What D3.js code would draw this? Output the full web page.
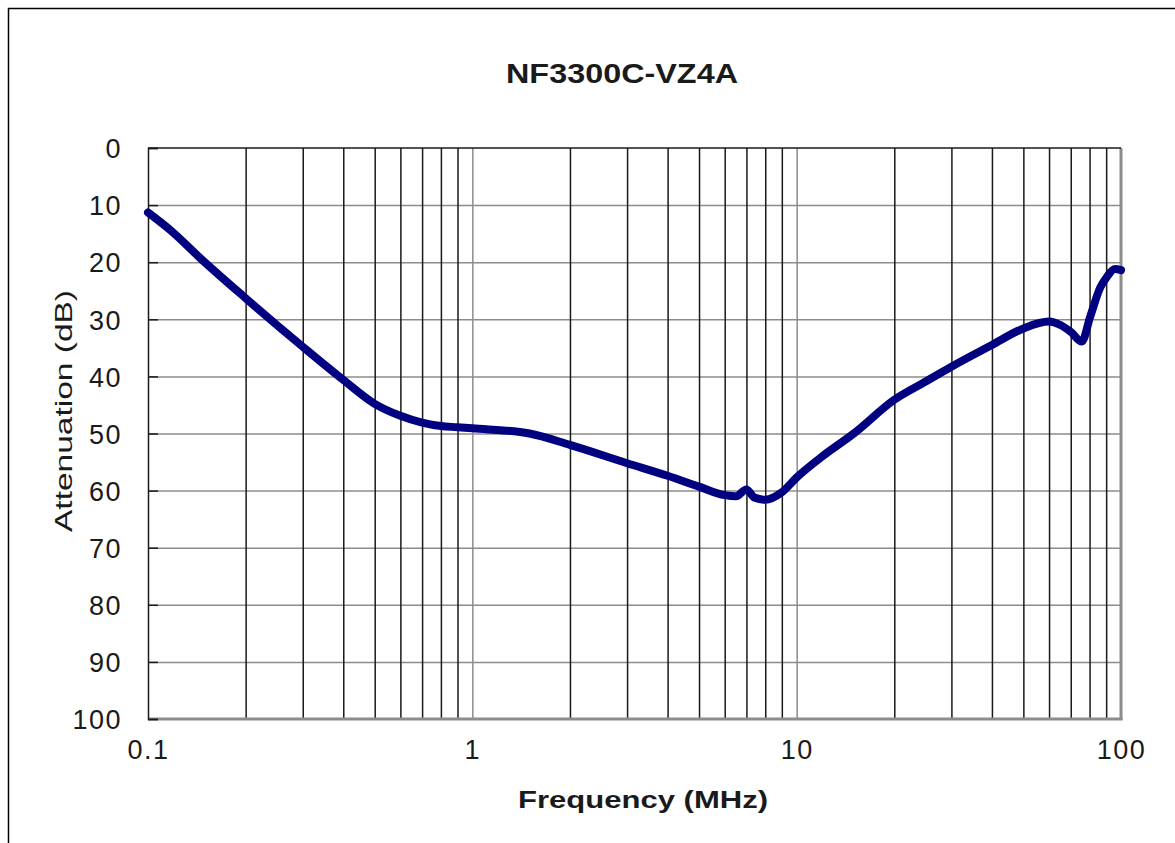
<!DOCTYPE html>
<html>
<head>
<meta charset="utf-8">
<script src="https://cdn.jsdelivr.net/npm/d3@7"></script>
<style>
  html, body { margin: 0; padding: 0; background: #fff; }
  svg { display: block; }
</style>
</head>
<body>
<svg id="chart" width="1175" height="843"></svg>
<script>
// ---- data ----
const chartTitle = "NF3300C-VZ4A";
const xLabel = "Frequency (MHz)";
const yLabel = "Attenuation (dB)";
const freqMHz = [0.1, 0.119, 0.145, 0.2, 0.3, 0.4, 0.5, 0.6, 0.7, 0.8, 0.9, 1.0, 1.5, 2, 3, 4, 5, 6, 6.5, 7, 7.4, 8, 9, 10, 12, 15, 20, 25, 30, 40, 50, 60, 65, 70, 75.7, 80.3, 86.2, 90.4, 95.8, 100];
const attenDb = [11.3, 14.7, 19.3, 26.3, 34.8, 40.6, 44.8, 46.9, 48.1, 48.7, 48.9, 49.1, 50.0, 52.0, 55.2, 57.4, 59.3, 60.8, 61.0, 59.8, 61.2, 61.6, 60.3, 57.7, 54.0, 50.0, 44.1, 40.9, 38.3, 34.5, 31.6, 30.4, 31.0, 32.2, 33.9, 29.6, 24.5, 22.6, 21.2, 21.4];
const xTickValues = [0.1, 1, 10, 100];
const xTickLabels = ["0.1", "1", "10", "100"];
const yTickValues = [0, 10, 20, 30, 40, 50, 60, 70, 80, 90, 100];

// ---- layout ----
const L = 148, R = 1121, T = 148, B = 719;
const svg = d3.select("#chart");
const FONT = "'Liberation Sans', Arial, sans-serif";

// outer frame (only left/top visible)
svg.append("rect").attr("x", 8.5).attr("y", 8.5).attr("width", 1300).attr("height", 1000)
  .attr("fill", "none").attr("stroke", "#000").attr("stroke-width", 1.5);

const x = d3.scaleLog().domain([0.1, 100]).range([L, R]);
const y = d3.scaleLinear().domain([0, 100]).range([T, B]);

// minor vertical grid (2..9 of each decade) and decade lines
const minor = [], decades = [];
[0.1, 1, 10].forEach(d => {
  for (let k = 2; k <= 9; k++) minor.push(+(d * k).toFixed(4));
  if (d > 0.1) decades.push(d);
});

// horizontal grid
svg.append("g").attr("transform", `translate(${L},0)`)
  .call(d3.axisLeft(y).tickValues(yTickValues.slice(1, -1)).tickSize(-(R - L)).tickFormat(""))
  .call(g => g.select(".domain").remove())
  .call(g => g.selectAll("line").attr("stroke", "#8c8c8c").attr("stroke-width", 1.5));

// vertical grid: decade lines gray, minor black
svg.append("g").attr("transform", `translate(0,${B})`)
  .call(d3.axisBottom(x).tickValues(decades).tickSize(-(B - T)).tickFormat(""))
  .call(g => g.select(".domain").remove())
  .call(g => g.selectAll("line").attr("stroke", "#8c8c8c").attr("stroke-width", 1.5));
svg.append("g").attr("transform", `translate(0,${B})`)
  .call(d3.axisBottom(x).tickValues(minor).tickSize(-(B - T)).tickFormat(""))
  .call(g => g.select(".domain").remove())
  .call(g => g.selectAll("line").attr("stroke", "#1a1a1a").attr("stroke-width", 1.5));

// plot border: right/bottom gray, left/top black
svg.append("line").attr("x1", R).attr("x2", R).attr("y1", T).attr("y2", B + 1)
  .attr("stroke", "#8c8c8c").attr("stroke-width", 3);
svg.append("line").attr("x1", L).attr("x2", R + 1.5).attr("y1", B).attr("y2", B)
  .attr("stroke", "#8c8c8c").attr("stroke-width", 3);
svg.append("line").attr("x1", L).attr("x2", R).attr("y1", T).attr("y2", T)
  .attr("stroke", "#1a1a1a").attr("stroke-width", 1.5);

// left axis with inward ticks
svg.append("g").attr("transform", `translate(${L},0)`)
  .call(d3.axisLeft(y).tickValues(yTickValues).tickSize(-10).tickPadding(26).tickFormat(d3.format("d")))
  .call(g => g.select(".domain").attr("stroke", "#1a1a1a").attr("stroke-width", 1.5))
  .call(g => g.selectAll("line").attr("stroke", "#1a1a1a").attr("stroke-width", 1.5))
  .call(g => g.selectAll("text").attr("font-family", FONT).attr("font-size", 27)
    .attr("fill", "#1a1a1a").attr("letter-spacing", 1.5).attr("dy", "0.36em"));

// bottom tick labels
svg.append("g").attr("transform", `translate(0,${B})`)
  .call(d3.axisBottom(x).tickValues(xTickValues).tickSize(0).tickPadding(21)
    .tickFormat((d, i) => xTickLabels[i]))
  .call(g => g.select(".domain").remove())
  .call(g => g.selectAll("text").attr("font-family", FONT).attr("font-size", 27)
    .attr("fill", "#1a1a1a").attr("letter-spacing", 1.5));

// curve
const line = d3.line().x((d, i) => x(freqMHz[i])).y(d => y(d)).curve(d3.curveMonotoneX);
svg.append("path").datum(attenDb).attr("d", line)
  .attr("fill", "none").attr("stroke", "#000080").attr("stroke-width", 8)
  .attr("stroke-linejoin", "round").attr("stroke-linecap", "round");

// title
svg.append("text").attr("x", 622).attr("y", 83).attr("text-anchor", "middle")
  .attr("font-family", FONT).attr("font-weight", "bold").attr("font-size", 27)
  .attr("textLength", 232).attr("lengthAdjust", "spacingAndGlyphs")
  .attr("fill", "#1a1a1a").text(chartTitle);

// x label
svg.append("text").attr("x", 643).attr("y", 808).attr("text-anchor", "middle")
  .attr("font-family", FONT).attr("font-weight", "bold").attr("font-size", 24)
  .attr("textLength", 250).attr("lengthAdjust", "spacingAndGlyphs")
  .attr("fill", "#1a1a1a").text(xLabel);

// y label
svg.append("text").attr("transform", "translate(72,411) rotate(-90)").attr("text-anchor", "middle")
  .attr("font-family", FONT).attr("font-size", 24)
  .attr("textLength", 242).attr("lengthAdjust", "spacingAndGlyphs")
  .attr("fill", "#1a1a1a").text(yLabel);
</script>
</body>
</html>
